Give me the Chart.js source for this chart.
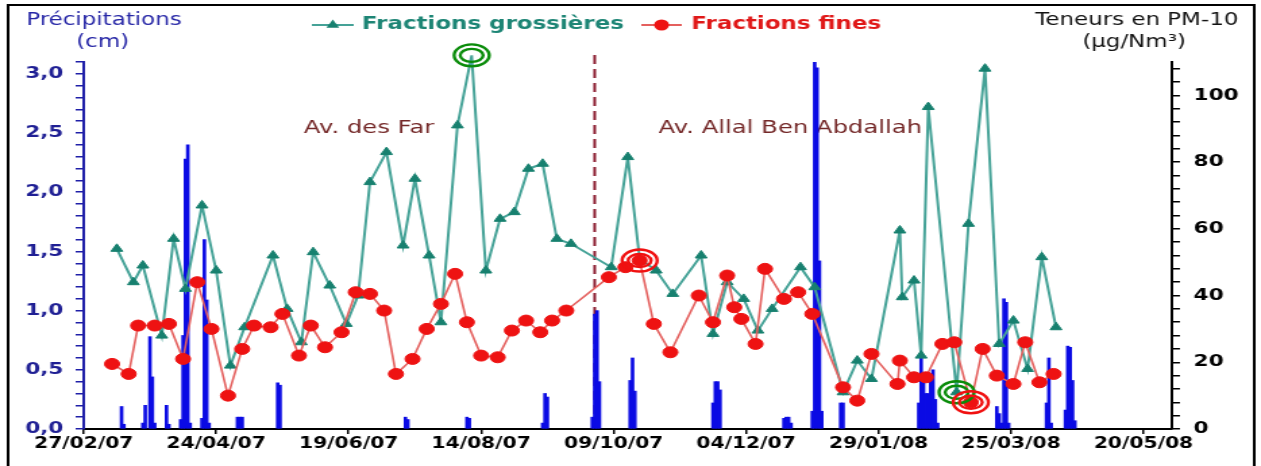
<!DOCTYPE html>
<html lang="fr">
<head>
<meta charset="utf-8">
<title>Précipitations et teneurs en PM-10</title>
<script src="https://cdn.jsdelivr.net/npm/chart.js@4/dist/chart.umd.min.js"></script>
<style>
  html, body { margin: 0; padding: 0; background: #fff; overflow: hidden; }
  /* the chart is laid out narrow and widened horizontally */
  #wrap { position: absolute; left: 0; top: 0; width: 934px; height: 466px;
          transform: scaleX(1.3501); transform-origin: 0 0; }
</style>
</head>
<body>
<div id="wrap"><canvas id="chart"></canvas></div>
<script>
// ---- data -----------------------------------------------------------------
// dates are counted in days from 27/02/07
const dateTicks = ['27/02/07', '24/04/07', '19/06/07', '14/08/07', '09/10/07',
                   '04/12/07', '29/01/08', '25/03/08', '20/05/08'];

// PM-10 coarse fraction (µg/Nm3)
const coarseDay = [14, 21, 25, 33, 38, 43, 50, 56, 62, 68, 80, 86, 92, 97, 104, 111, 116, 121, 128, 135,
  140, 146, 151, 158, 164, 170, 176, 182, 188, 194, 200, 206, 223, 230, 235, 242, 249, 261, 266, 272,
  279, 285, 291, 303, 309, 321, 327, 333, 345, 346, 351, 354, 357, 369, 374, 381, 387, 393, 399, 405, 411];
const coarseValue = [54, 44, 49, 28, 57, 42, 67, 47.5, 19, 30.5, 52, 36, 26, 53, 43, 31.5, 40, 74, 83, 55,
  75, 52, 32, 91, 112, 47.5, 63, 65, 78, 79.5, 57, 55.5, 48.5, 81.5, 51, 47.5, 40.5, 52, 28.5, 44,
  39, 29.5, 36, 48.5, 42.5, 11, 20.5, 15, 59.5, 39.5, 44.5, 22, 96.5, 11, 61.5, 108, 25.5, 32.5, 18, 51.5, 30.5];

// PM-10 fine fraction (µg/Nm3)
const fineDay = [12, 19, 23, 30, 36, 42, 48, 54, 61, 67, 72, 79, 84, 91, 96, 102, 109, 115, 121, 127,
  132, 139, 145, 151, 157, 162, 168, 175, 181, 187, 193, 198, 204, 222, 229, 235, 241, 248, 260, 266,
  272, 275, 278, 284, 288, 296, 302, 308, 321, 327, 333, 344, 345, 351, 356, 363, 368, 375, 380, 386,
  393, 398, 404, 410];
const fineValue = [19.5, 16.5, 31, 31, 31.5, 21, 44, 30, 10, 24, 31, 30.5, 34.5, 22, 31, 24.5, 29, 41, 40.5, 35.5,
  16.5, 21, 30, 37.5, 46.5, 32, 22, 21.5, 29.5, 32.5, 29, 32.5, 35.5, 45.5, 48.5, 50.5, 31.5, 23, 40, 32,
  46, 36.5, 33, 25.5, 48, 39, 41, 34.5, 12.5, 8.5, 22.5, 13.5, 20.5, 15.5, 15.5, 25.5, 26, 8, 24, 16,
  13.5, 26, 14, 16.5];

// daily rainfall (cm)
const rainDay = [16, 17, 25, 26, 28, 29, 30, 35, 36, 41, 42, 43, 44, 45, 50, 51, 52, 53, 65, 66,
  67, 82, 83, 136, 137, 162, 163, 194, 195, 196, 215, 216, 217, 218, 231, 232, 233, 266, 267, 268,
  269, 296, 297, 298, 299, 308, 309, 310, 311, 312, 320, 321, 353, 354, 355, 356, 357, 358, 359, 360,
  361, 386, 387, 388, 389, 390, 391, 407, 408, 409, 415, 416, 417, 418, 419];
const rainCm = [0.19, 0.04, 0.05, 0.2, 0.78, 0.44, 0.05, 0.2, 0.04, 0.08, 0.79, 2.28, 2.4, 0.05, 0.09, 1.6, 1.09, 0.05, 0.1, 0.1,
  0.1, 0.39, 0.37, 0.1, 0.08, 0.1, 0.09, 0.05, 0.3, 0.27, 0.1, 0.97, 1.0, 0.4, 0.41, 0.6, 0.32, 0.22, 0.4, 0.4,
  0.33, 0.09, 0.1, 0.1, 0.05, 0.15, 3.1, 3.05, 1.42, 0.15, 0.22, 0.22, 0.22, 0.6, 0.4, 0.3, 0.3, 0.45, 0.5, 0.25,
  0.05, 0.19, 0.13, 0.05, 1.1, 1.07, 0.05, 0.22, 0.6, 0.05, 0.16, 0.7, 0.69, 0.41, 0.07];

// sampling sites and the day the station moved
const siteNames = ['Av. des Far', 'Av. Allal Ben Abdallah'];
const siteChangeDay = 216;

// points ringed on the chart (indices into the series)
const coarseRinged = [24, 53];
const fineRinged = [35, 57];

// ---- helpers --------------------------------------------------------------
const DAY = 86400000;
const ORIGIN = Date.UTC(2007, 1, 27);
const pad2 = n => String(n).padStart(2, '0');
function dayToLabel(d) {
  const t = new Date(ORIGIN + Math.round(d) * DAY);
  return pad2(t.getUTCDate()) + '/' + pad2(t.getUTCMonth() + 1) + '/' + pad2(t.getUTCFullYear() % 100);
}
function labelToDay(s) {
  const [dd, mm, yy] = s.split('/').map(Number);
  return Math.round((Date.UTC(2000 + yy, mm - 1, dd) - ORIGIN) / DAY);
}
const zip = (xs, ys) => xs.map((x, i) => ({ x, y: ys[i] }));

const FONT = '"DejaVu Sans", Verdana, sans-serif';
Chart.defaults.font.family = FONT;

const BLUE_AXIS = '#1f1fa8';
const BLUE_TEXT = '#1f1f94';
const TEAL_LINE = '#45a297';
const TEAL_MARK = '#17806f';
const TEAL_TEXT = '#1d8575';
const RED_LINE = '#e4605e';
const RED_MARK = '#ee1212';

// site labels are anchored in data units (day, PM-10 level)
const siteLabelDay = [93, 243];
const siteLabelLevel = 90;

function drawTriangle(ctx, x, y, r) {
  ctx.beginPath();
  for (let k = 0; k < 3; k++) {
    const a = -Math.PI / 2 + k * 2 * Math.PI / 3;
    const px = x + r * Math.cos(a), py = y + r * Math.sin(a);
    k ? ctx.lineTo(px, py) : ctx.moveTo(px, py);
  }
  ctx.closePath();
  ctx.fill();
}
function drawDot(ctx, x, y, r) {
  ctx.beginPath();
  ctx.arc(x, y, r, 0, Math.PI * 2);
  ctx.fill();
}
function ring(ctx, x, y, color) {
  ctx.strokeStyle = color;
  ctx.lineWidth = 2.4;
  ctx.beginPath(); ctx.ellipse(x, y, 13, 11, 0, 0, Math.PI * 2); ctx.stroke();
  ctx.beginPath(); ctx.ellipse(x, y, 8.5, 6.5, 0, 0, Math.PI * 2); ctx.stroke();
}

const decorations = {
  id: 'decorations',
  beforeDatasetsDraw(chart) {
    const { ctx, chartArea, scales } = chart;
    ctx.save();
    const xs = scales.x.getPixelForValue(siteChangeDay);
    ctx.strokeStyle = '#8a1a2e';
    ctx.lineWidth = 2;
    ctx.setLineDash([9, 5]);
    ctx.beginPath();
    ctx.moveTo(xs, chartArea.top - 7);
    ctx.lineTo(xs, chartArea.bottom);
    ctx.stroke();
    ctx.setLineDash([]);

    ctx.font = '18px ' + FONT;
    ctx.fillStyle = '#742828';
    ctx.textAlign = 'left';
    ctx.textBaseline = 'middle';
    siteNames.forEach((name, i) => {
      ctx.fillText(name, scales.x.getPixelForValue(siteLabelDay[i]),
                   scales.y2.getPixelForValue(siteLabelLevel));
    });
    ctx.restore();
  },
  afterDatasetsDraw(chart) {
    const { ctx } = chart;
    ctx.save();
    const coarse = chart.getDatasetMeta(1).data;
    const fine = chart.getDatasetMeta(2).data;
    coarseRinged.forEach(i => ring(ctx, coarse[i].x, coarse[i].y, '#0a8c0a'));
    fineRinged.forEach(i => ring(ctx, fine[i].x, fine[i].y, '#f01010'));
    ctx.restore();
  },
  afterDraw(chart) {
    const { ctx } = chart;
    ctx.save();
    // legend
    const ly = 25;
    ctx.lineWidth = 2;
    ctx.strokeStyle = TEAL_LINE;
    ctx.beginPath(); ctx.moveTo(231, ly); ctx.lineTo(262, ly); ctx.stroke();
    ctx.fillStyle = TEAL_MARK;
    drawTriangle(ctx, 246.5, ly, 5.5);
    ctx.strokeStyle = RED_LINE;
    ctx.beginPath(); ctx.moveTo(475, ly); ctx.lineTo(505, ly); ctx.stroke();
    ctx.fillStyle = RED_MARK;
    drawDot(ctx, 490, ly, 5.5);

    ctx.textBaseline = 'middle';
    ctx.textAlign = 'left';
    ctx.font = 'bold 17px ' + FONT;
    ctx.fillStyle = TEAL_TEXT;
    ctx.fillText('Fractions grossières', 268, ly);
    ctx.fillStyle = '#e01818';
    ctx.fillText('Fractions fines', 512, ly);

    // axis titles
    ctx.textAlign = 'center';
    ctx.font = '17px ' + FONT;
    ctx.fillStyle = '#2626a6';
    ctx.fillText('Précipitations', 77, 21);
    ctx.fillText('(cm)', 76, 43);
    ctx.fillStyle = '#111';
    ctx.fillText('Teneurs en PM-10', 842, 21);
    ctx.fillText('(µg/Nm³)', 840, 43);

    // frame
    ctx.strokeStyle = '#000';
    ctx.lineWidth = 2;
    ctx.strokeRect(6, 5, 923, 470);
    ctx.restore();
  }
};

const tickDays = dateTicks.map(labelToDay);

new Chart(document.getElementById('chart'), {
  type: 'bar',
  data: {
    datasets: [
      {
        type: 'bar',
        label: 'Précipitations (cm)',
        data: zip(rainDay, rainCm),
        yAxisID: 'y',
        backgroundColor: '#0b0be4',
        borderWidth: 0,
        barThickness: 2,
        order: 3
      },
      {
        type: 'line',
        label: 'Fractions grossières',
        data: zip(coarseDay, coarseValue),
        yAxisID: 'y2',
        borderColor: TEAL_LINE,
        borderWidth: 2,
        pointStyle: 'triangle',
        pointRadius: 5,
        pointBackgroundColor: TEAL_MARK,
        pointBorderColor: TEAL_MARK,
        pointBorderWidth: 1,
        tension: 0,
        clip: false,
        order: 2
      },
      {
        type: 'line',
        label: 'Fractions fines',
        data: zip(fineDay, fineValue),
        yAxisID: 'y2',
        borderColor: RED_LINE,
        borderWidth: 1.6,
        pointStyle: 'circle',
        pointRadius: 5.5,
        pointBackgroundColor: RED_MARK,
        pointBorderColor: RED_MARK,
        pointBorderWidth: 1,
        tension: 0,
        clip: false,
        order: 1
      }
    ]
  },
  options: {
    responsive: true,
    maintainAspectRatio: false,
    animation: false,
    events: [],
    layout: { padding: { top: 62, left: 0, right: 0, bottom: 0 } },
    plugins: { legend: { display: false }, tooltip: { enabled: false } },
    scales: {
      x: {
        type: 'linear',
        min: 0,
        max: 460,
        offset: false,
        afterBuildTicks: s => { s.ticks = tickDays.map(v => ({ value: v })); },
        afterFit: s => { s.height = 37; },
        ticks: {
          autoSkip: false,
          maxRotation: 0,
          padding: 1,
          color: '#000',
          font: { size: 15, weight: 'bold' },
          callback: v => dayToLabel(v)
        },
        grid: { drawOnChartArea: false, tickLength: 5, color: '#000', lineWidth: 1.5, offset: false },
        border: { color: '#000', width: 2 }
      },
      y: {
        position: 'left',
        min: 0,
        max: 3.1,
        afterBuildTicks: s => { s.ticks = Array.from({ length: 32 }, (_, i) => ({ value: i / 10 })); },
        afterFit: s => { s.width = 62; },
        ticks: {
          autoSkip: false,
          padding: 9,
          color: BLUE_TEXT,
          font: { size: 16, weight: 'bold' },
          callback: v => Math.abs(v * 2 - Math.round(v * 2)) < 1e-9 ? v.toFixed(1).replace('.', ',') : ''
        },
        grid: { drawOnChartArea: false, tickLength: 6, color: BLUE_AXIS, lineWidth: 1.5 },
        border: { color: BLUE_AXIS, width: 2 }
      },
      y2: {
        position: 'right',
        min: 0,
        max: 110,
        afterBuildTicks: s => { s.ticks = Array.from({ length: 28 }, (_, i) => ({ value: i * 4 })); },
        afterFit: s => { s.width = 66; },
        ticks: {
          autoSkip: false,
          padding: 10,
          color: '#000',
          font: { size: 16, weight: 'bold' },
          callback: v => v % 20 === 0 ? String(v) : ''
        },
        grid: { drawOnChartArea: false, tickLength: 6, color: '#000', lineWidth: 1.5 },
        border: { color: '#000', width: 2 }
      }
    }
  },
  plugins: [decorations]
});
</script>
</body>
</html>
